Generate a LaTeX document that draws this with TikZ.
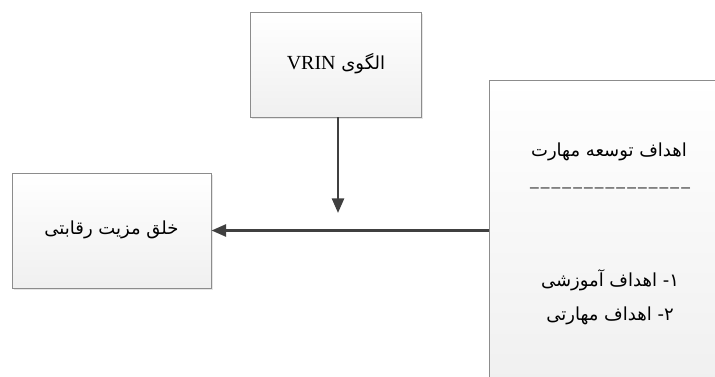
\documentclass[tikz,border=0pt]{standalone}
\usepackage{fontspec}
\usetikzlibrary{arrows.meta,shadows}
\TeXXeTstate=1
\newfontfamily\arabicfont[Script=Arabic]{DejaVu Sans}
\setmainfont{Liberation Serif}
\tikzset{
  box/.style={draw=black!45, line width=0.7pt, top color=white, bottom color=black!6,
    drop shadow={shadow xshift=1.5pt, shadow yshift=-1.5pt, opacity=0.2, fill=black!50},
    inner sep=0pt},
  lbl/.style={font=\fontsize{13.5}{16}\selectfont\arabicfont, inner sep=0pt, anchor=center},
  conn/.style={draw=black!75, line width=2pt, -{Triangle[length=11pt,width=9pt]}}
}
\newcommand\dsh{–\kern1.6pt}
\begin{document}
\begin{tikzpicture}[x=0.75pt,y=-0.75pt]
\useasboundingbox (0,0) rectangle (715,376);
\clip (0,0) rectangle (715,376);
\node[box, minimum width=128.25pt, minimum height=78.75pt] (vrin) at (335.5,64.5) {};
\node[lbl] (vrint) at (336,64) {\beginR الگوی \beginL{\rmfamily\fontsize{15}{17}\selectfont VRIN}\endL\endR};
\node[box, minimum width=149.25pt, minimum height=86.25pt] (adv) at (111.5,230.5) {};
\node[lbl] (advt) at (111.5,230) {\beginR خلق مزیت رقابتی\endR};
\node[box, minimum width=184.5pt, minimum height=232.5pt] (goals) at (612,235) {};
\node[lbl] (g1) at (609,152) {\beginR اهداف توسعه مهارت\endR};
\node[inner sep=0pt, font=\fontsize{13}{15}\selectfont] (g2) at (610,190) {\dsh\dsh\dsh\dsh\dsh\dsh\dsh\dsh\dsh\dsh\dsh\dsh\dsh\dsh–};
\node[lbl] (g3) at (610,280) {\beginR ۱- اهداف آموزشی\endR};
\node[lbl] (g4) at (610,316) {\beginR ۲- اهداف مهارتی\endR};
\coordinate (tip) at (338,213);
\draw[conn] (goals.west |- adv.east) -- (adv.east);
\draw[conn] (vrin.south -| tip) -- (tip);
\end{tikzpicture}
\end{document}
